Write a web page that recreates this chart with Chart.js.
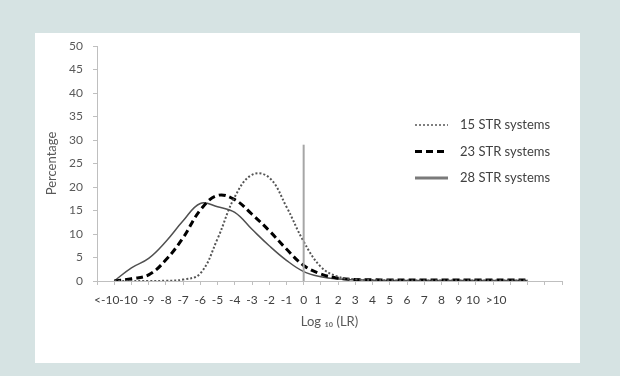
<!DOCTYPE html>
<html>
<head>
<meta charset="utf-8">
<script src="https://cdn.jsdelivr.net/npm/chart.js@4.4.0/dist/chart.umd.min.js"></script>
<style>
  html, body { margin: 0; padding: 0; background: #d6e3e3; }
  #wrap { position: relative; width: 620px; height: 376px; }
  #panel { position: absolute; left: 35px; top: 33px; width: 545px; height: 330px; background: #fff; }
  #myChart { position: absolute; left: 0; top: 0; }
</style>
</head>
<body>
<div id="wrap">
  <div id="panel"></div>
  <canvas id="myChart" width="620" height="376"></canvas>
</div>
<script>
// etiquetas del eje x (una por marca, 28 marcas)
// los espacios anchos corren un poco el texto, como en el original
const etiquetas = ['', '<-10\u2003\u2002', '-10\u2002', '-9', '-8', '-7', '-6', '-5', '-4', '-3', '-2', '-1',
  '0', '1\u2002', '2', '3', '4', '5', '6', '7', '8', '9', '10\u2002', '\u2002>10', '', '', '', ''];

// porcentajes (marcas 1 a 25)
const str15 = [0, 0, 0, 0.05, 0.3, 1.6, 9.0, 17.9, 22.6, 22.0, 15.8, 8.4, 3.0, 0.9, 0.35,
  0.2, 0.15, 0.1, 0.1, 0.1, 0.1, 0.1, 0.1, 0.1, 0.1];
const str23 = [0, 0.5, 1.3, 4.5, 9.2, 15.1, 18.2, 17.3, 14.2, 10.7, 6.8, 3.3, 1.5, 0.6, 0.3,
  0.25, 0.2, 0.2, 0.2, 0.2, 0.2, 0.2, 0.2, 0.2, 0.2];
const str28 = [0, 2.8, 4.8, 8.4, 12.8, 16.5, 15.8, 14.6, 11.0, 7.5, 4.4, 2.0, 0.9, 0.4, 0.25,
  0.15, 0.1, 0.1, 0.1, 0.1, 0.1, 0.1, 0.1, 0.1, 0.1];

// linea vertical en log10(LR) = 0
const lineaCero = [0, 29];

const rellenar = arr => [null, ...arr, null, null];

const leyenda = {
  id: 'leyenda',
  afterDraw(chart) {
    const ctx = chart.ctx;
    const items = chart.data.datasets.filter(d => d.label);
    items.forEach((d, i) => {
      const y = 125 + i * 26.5;
      ctx.save();
      ctx.strokeStyle = d.legendColor || d.borderColor;
      ctx.lineWidth = d.legendWidth;
      ctx.setLineDash(d.borderDash || []);
      ctx.beginPath();
      ctx.moveTo(415, y);
      ctx.lineTo(448, y);
      ctx.stroke();
      ctx.setLineDash([]);
      ctx.fillStyle = '#404040';
      ctx.font = '13px Lato';
      ctx.textBaseline = 'middle';
      ctx.fillText(d.label, 460, y);
      ctx.restore();
    });
  }
};

const grafico = document.getElementById('myChart');

const chart = new Chart(grafico, {
  type: 'line',
  data: {
    labels: etiquetas,
    datasets: [
      {
        label: '',
        data: lineaCero.map(v => ({ x: '0', y: v })),
        borderColor: '#a6a6a6',
        borderWidth: 2,
        pointRadius: 0,
        tension: 0
      },
      {
        label: '15 STR systems',
        data: rellenar(str15),
        borderColor: '#555555',
        borderWidth: 2,
        borderDash: [2, 2],
        legendWidth: 1.5,
        pointRadius: 0,
        tension: 0.4
      },
      {
        label: '23 STR systems',
        data: rellenar(str23),
        borderColor: '#000000',
        borderWidth: 3,
        borderDash: [7, 4],
        legendWidth: 3,
        pointRadius: 0,
        tension: 0.4
      },
      {
        label: '28 STR systems',
        data: rellenar(str28),
        borderColor: '#505050',
        legendColor: '#7a7a7a',
        borderWidth: 1.5,
        legendWidth: 3,
        pointRadius: 0,
        tension: 0.4
      }
    ]
  },
  options: {
    responsive: false,
    animation: false,
    events: [],
    layout: { padding: { left: 40, top: 46, right: 58, bottom: 30 } },
    plugins: {
      legend: { display: false },
      tooltip: { enabled: false }
    },
    scales: {
      x: {
        type: 'category',
        offset: false,
        afterFit: s => { s.height = 65; },
        grid: { drawOnChartArea: false, color: '#bfbfbf', tickLength: 4 },
        border: { color: '#bfbfbf', width: 1 },
        ticks: {
          autoSkip: false, maxRotation: 0, padding: 8,
          color: '#404040', font: { family: 'Lato', size: 12 }
        },
        title: {
          display: true, text: 'Log ₁₀ (LR)', color: '#595959',
          font: { family: 'Lato', size: 13 }, padding: { top: 0, bottom: 16 }
        }
      },
      y: {
        min: 0, max: 50,
        afterFit: s => { s.width = 57; },
        grid: { drawOnChartArea: false, color: '#bfbfbf', tickLength: 4 },
        border: { color: '#bfbfbf', width: 1 },
        ticks: {
          stepSize: 5, padding: 10,
          color: '#595959', font: { family: 'Lato', size: 12 }
        },
        title: {
          display: true, text: 'Percentage', color: '#595959',
          font: { family: 'Lato', size: 13 }, padding: { top: 4, bottom: 0 }
        }
      }
    }
  },
  plugins: [leyenda]
});
</script>
</body>
</html>
